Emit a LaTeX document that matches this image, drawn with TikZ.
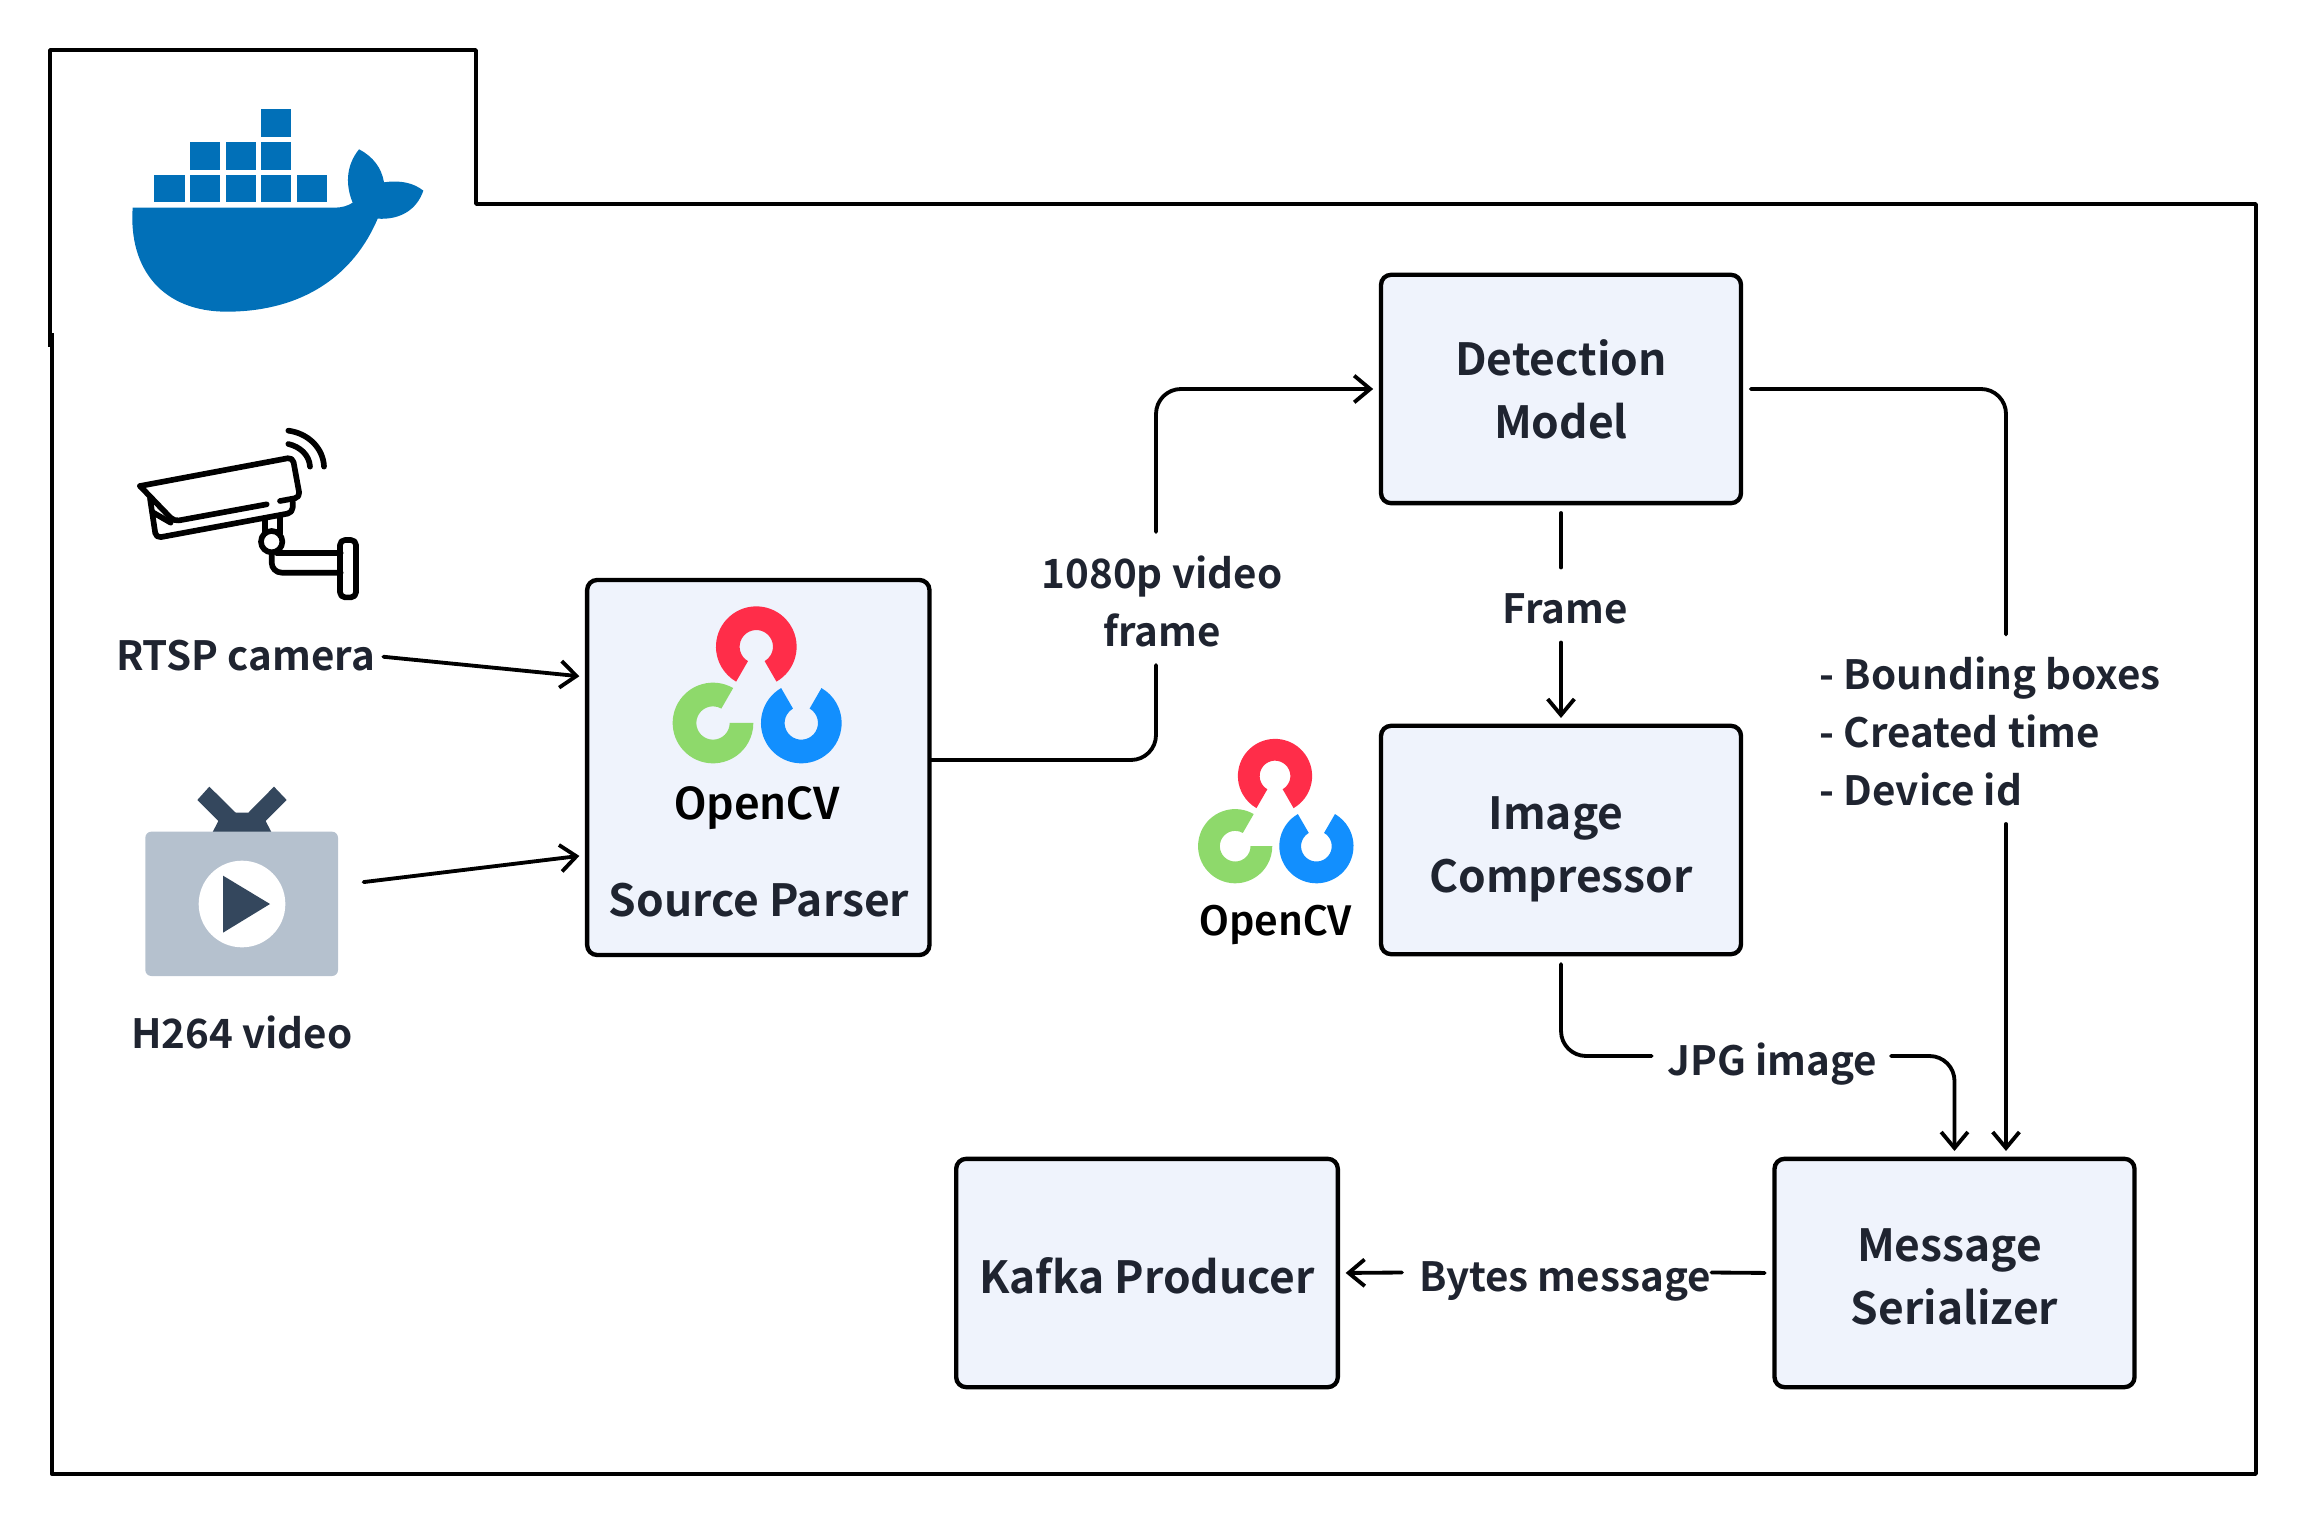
\documentclass[tikz,border=0pt]{standalone}
\usepackage{fontspec}
\setmainfont{Noto Sans CJK SC}[UprightFont=* Bold]
\newfontfamily\cvfont{Fira Sans}[UprightFont=* Medium]
\usetikzlibrary{arrows.meta}

\definecolor{boxfill}{HTML}{EFF3FC}
\definecolor{labeltext}{HTML}{1F2430}
\definecolor{dockerblue}{HTML}{0170B8}
\definecolor{cvred}{HTML}{FF2D49}
\definecolor{cvgreen}{HTML}{8ED96B}
\definecolor{cvblue}{HTML}{128FFE}
\definecolor{tvgrey}{HTML}{B5C1CE}
\definecolor{tvdark}{HTML}{34475D}

\tikzset{
  block/.style={draw, line width=1.3pt, fill=boxfill, rounded corners=3pt, inner sep=0pt,
    align=center, text=labeltext, font=\fontsize{13.3}{19}\selectfont},
  tag/.style={inner sep=0pt, align=center, text=labeltext, font=\fontsize{12.1}{17.4}\selectfont},
  wire/.style={line width=1.15pt, line cap=round},
  icon/.style={line width=1.7pt, line cap=round, line join=round},
  cvlogo/.pic={
    \foreach \cx/\cy/\ang/\col in {0/0/-60/cvred, -43.3/76.3/60/cvgreen, 45/76.3/120/cvblue} {
      \begin{scope}[shift={(\cx,\cy)}]
        \fill[\col] (\ang:12.1pt) arc[start angle=\ang, delta angle=300, radius=12.1pt]
          -- ({\ang+300}:5pt) arc[start angle=\ang+300, delta angle=-300, radius=5pt] -- cycle;
      \end{scope}
    }
    \node[anchor=base, inner sep=0pt, transform shape, font=\cvfont\fontsize{14}{14}\selectfont] (word) at (0.7,173) {OpenCV};
  }
}

\begin{document}
\begin{tikzpicture}[x=0.3pt, y=-0.3pt, >={Straight Barb[length=4.8pt, width=8pt]}]

\useasboundingbox (0,0) rectangle (2306,1526);

% Container outline
\draw[line width=1.1pt, line join=round] (50,347) -- (50,50) -- (476,50) -- (476,204) -- (2256,204)
  -- (2256,1474) -- (51.7,1474) -- (51.7,333);

% Docker logo
\begin{scope}[shift={(30,30)}, x=0.1pt, y=-0.1pt]
  \foreach \bx/\by in {373/434, 480/434, 587/434, 693/434, 801/434, 480/336, 587/336, 693/336, 693/238}
    \fill[dockerblue] (\bx,\by) rectangle ++(91,83);
  \fill[dockerblue] (308,533) -- (915,533) .. controls (935,533) and (955,527) .. (968,518)
    .. controls (948,470) and (945,410) .. (987,358) .. controls (1030,380) and (1055,415) .. (1062,457)
    .. controls (1110,450) and (1150,458) .. (1180,482) .. controls (1160,540) and (1110,570) .. (1043,566)
    .. controls (960,760) and (790,845) .. (590,845) .. controls (400,845) and (295,720) .. (308,533) -- cycle;
\end{scope}

% Camera icon
\begin{scope}[shift={(100,400)}, x=0.1pt, y=-0.1pt]
  \draw[icon, rounded corners=1.5pt] (120,258) -- (578,172) -- (600,292) -- (540,303);
  \draw[icon, rounded corners=1.5pt] (120,258) -- (222,364) -- (500,313);
  \draw[icon, rounded corners=1.5pt] (150,295) -- (168,414) -- (578,338) -- (578,305);
  \draw[icon] (160,338) -- (212,368);
  \draw[icon] (495,362) -- (495,395) (540,350) -- (540,400);
  \draw[icon] (515,425) circle[radius=3.2pt];
  \draw[icon, rounded corners=3pt] (515,460) -- (515,518) -- (722,518);
  \draw[icon] (530,458) -- (722,458);
  \draw[icon, rounded corners=1.5pt] (720,420) -- (768,420) -- (768,592) -- (720,592) -- cycle;
  \draw[icon] (565,92) .. controls (625,100) and (670,145) .. (672,200);
  \draw[icon] (565,132) .. controls (600,140) and (628,165) .. (630,200);
\end{scope}

% TV icon
\begin{scope}[shift={(120,760)}, x=0.1pt, y=-0.1pt]
  \fill[tvdark] (276,220) -- (295,183) -- (232,120) -- (268,80) -- (347,158) -- (385,158)
    -- (462,80) -- (500,120) -- (437,183) -- (456,220) -- cycle;
  \fill[tvgrey, rounded corners=1.8pt] (76,215) rectangle (654,648);
  \fill[white] (366,432) circle[radius=13pt];
  \fill[tvdark] (309,347) -- (450,432) -- (309,518) -- cycle;
\end{scope}

% Process blocks
\node[block, minimum width=102.7pt, minimum height=112.5pt] (parser) at (758.3,767.5) {};
\node[block, minimum width=108pt, minimum height=68.5pt] (detect) at (1561,389) {Detection\rule{0pt}{11pt}\\Model};
\node[block, minimum width=108pt, minimum height=68.5pt] (compress) at (1561,840) {Image\hspace*{3pt}\rule{0pt}{15.4pt}\\Compressor};
\node[block, minimum width=108pt, minimum height=68.5pt] (serial) at (1954.5,1273) {Message\hspace*{3pt}\rule{0pt}{12.3pt}\\Serializer};
\node[block, minimum width=114.5pt, minimum height=68.5pt] (kafka) at (1147,1273) {\rule{0pt}{12.3pt}Kafka Producer};

% OpenCV logos
\pic (cvparser) at (756.3,646.7) {cvlogo};
\pic[scale=0.92, transform shape] (cvcompress) at (1275,776) {cvlogo};

% Labels
\node[block, draw=none, fill=none] (parsertag) at (759,900) {Source Parser};
\node[tag] (rtsptag) at (245.6,656) {RTSP camera};
\node[tag] (h264tag) at (242,1032) {H264 video};
\node[tag] (videotag) at (1162,601.5) {1080p video\\frame};
\node[tag] (frametag) at (1565,609) {Frame};
\node[tag] (jpgtag) at (1772,1064) {JPG image};
\node[tag] (bytestag) at (1565,1281) {Bytes message};
\node[tag, anchor=west, align=left] (metatag) at (1819,731.5) {- Bounding boxes\\- Created time\\- Device id};

% Free ends of the connectors
\coordinate (rtspin) at (587,677);
\coordinate (h264out) at (356,883);
\coordinate (h264in) at (587,855);
\coordinate (parserout) at (930,760);
\coordinate (videolow) at (1156,665);
\coordinate (videohigh) at (1156,532);
\coordinate (framehigh) at (1561,567.5);
\coordinate (framelow) at (1561,642.5);
\coordinate (jpgleft) at (1651.6,1056);
\coordinate (jpgright) at (1891,1056);
\coordinate (metahigh) at (2006,634.5);
\coordinate (metalow) at (2006,824);
\coordinate (bytesright) at (1711.6,1272.5);
\coordinate (bytesleft) at (1402,1272.5);

% Connectors
\draw[wire, ->, shorten >=2.3pt, shorten <=2.3pt] (rtsptag.east) -- (rtspin);
\draw[wire, ->, shorten >=2.3pt, shorten <=2.3pt] (h264out) -- (h264in);
\draw[wire, rounded corners=7.5pt] (parserout) -| (videolow);
\draw[wire, ->, rounded corners=7.5pt, shorten >=1.7pt] (videohigh) |- (detect.west);
\draw[wire, shorten <=2.3pt] (detect.south) -- (framehigh);
\draw[wire, ->, shorten >=1.7pt] (framelow) -- (compress.north);
\draw[wire, rounded corners=7.5pt, shorten <=2.3pt] (detect.east) -| (metahigh);
\draw[wire, ->, shorten >=1.7pt] (metalow) -- (metalow |- serial.north);
\draw[wire, rounded corners=7.5pt, shorten <=2.3pt] (compress.south) |- (jpgleft);
\draw[wire, ->, rounded corners=7.5pt, shorten >=1.7pt] (jpgright) -| (serial.north);
\draw[wire, shorten <=2.3pt] (serial.west) -- (bytesright);
\draw[wire, ->, shorten >=1.7pt] (bytesleft) -- (kafka.east);

\end{tikzpicture}
\end{document}
